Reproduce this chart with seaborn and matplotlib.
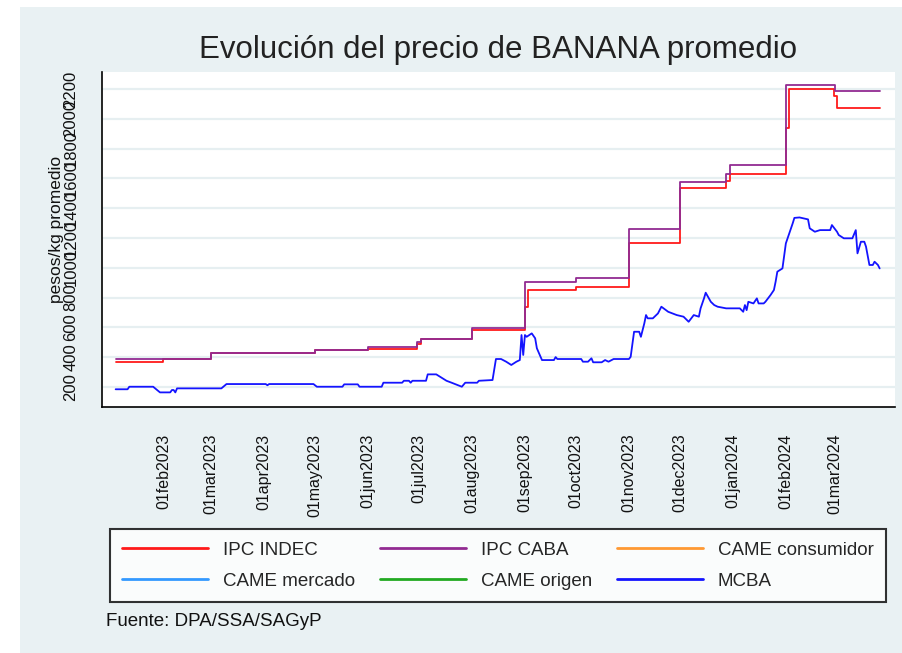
import pandas as pd
import matplotlib
matplotlib.use('Agg')
import matplotlib.pyplot as plt
import seaborn as sns

# IPC CABA (escalones)
caba_fechas = ['2023-01-04', '2023-03-01', '2023-05-01', '2023-06-01', '2023-06-30', '2023-07-02',
               '2023-08-01', '2023-09-01', '2023-10-01', '2023-11-01', '2023-12-01', '2023-12-28',
               '2023-12-30', '2024-02-01', '2024-03-01', '2024-03-27']
caba_precio = [390, 430, 446, 470, 500, 524, 594, 907, 929, 1258, 1574, 1630, 1688, 2226, 2186, 2186]

# IPC INDEC (escalones)
indec_fechas = ['2023-01-04', '2023-02-01', '2023-03-01', '2023-05-01', '2023-06-01', '2023-06-30',
                '2023-07-02', '2023-08-01', '2023-09-01', '2023-09-03', '2023-10-01', '2023-11-01',
                '2023-12-01', '2023-12-28', '2023-12-30', '2024-02-01', '2024-02-03', '2024-02-29',
                '2024-03-02', '2024-03-27']
indec_precio = [365, 390, 430, 446, 458, 490, 524, 582, 735, 851, 869, 1168, 1537, 1580, 1627,
                1938, 2198, 2150, 2070, 2070]

# MCBA
mcba_fechas = ['2023-01-04', '2023-01-11', '2023-01-12', '2023-01-26', '2023-01-30', '2023-02-05',
               '2023-02-06', '2023-02-07', '2023-02-08', '2023-02-09', '2023-03-07', '2023-03-10',
               '2023-04-02', '2023-04-03', '2023-04-04', '2023-04-30', '2023-05-02', '2023-05-17',
               '2023-05-18', '2023-05-26', '2023-05-27', '2023-06-09', '2023-06-10', '2023-06-21',
               '2023-06-22', '2023-06-25', '2023-06-26', '2023-06-27', '2023-07-05', '2023-07-06',
               '2023-07-11', '2023-07-17', '2023-07-20', '2023-07-26', '2023-07-28', '2023-08-04',
               '2023-08-05', '2023-08-13', '2023-08-15', '2023-08-18', '2023-08-21', '2023-08-24',
               '2023-08-27', '2023-08-29', '2023-08-30', '2023-08-31', '2023-09-01', '2023-09-02',
               '2023-09-05', '2023-09-07', '2023-09-08', '2023-09-11', '2023-09-18', '2023-09-19',
               '2023-09-20', '2023-10-04', '2023-10-05', '2023-10-08', '2023-10-10', '2023-10-11',
               '2023-10-16', '2023-10-18', '2023-10-20', '2023-10-23', '2023-11-01', '2023-11-02',
               '2023-11-04', '2023-11-07', '2023-11-08', '2023-11-10', '2023-11-11', '2023-11-12',
               '2023-11-15', '2023-11-18', '2023-11-20', '2023-11-24', '2023-11-29', '2023-12-03',
               '2023-12-06', '2023-12-09', '2023-12-12', '2023-12-13', '2023-12-15', '2023-12-16',
               '2023-12-19', '2023-12-21', '2023-12-23', '2023-12-28', '2024-01-05', '2024-01-07',
               '2024-01-08', '2024-01-09', '2024-01-10', '2024-01-13', '2024-01-15', '2024-01-16',
               '2024-01-19', '2024-01-20', '2024-01-23', '2024-01-25', '2024-01-26', '2024-01-27',
               '2024-01-30', '2024-01-31', '2024-02-01', '2024-02-03', '2024-02-05', '2024-02-06',
               '2024-02-09', '2024-02-14', '2024-02-15', '2024-02-18', '2024-02-21', '2024-02-27',
               '2024-02-28', '2024-03-02', '2024-03-03', '2024-03-06', '2024-03-11', '2024-03-13',
               '2024-03-14', '2024-03-16', '2024-03-18', '2024-03-19', '2024-03-21', '2024-03-23',
               '2024-03-24', '2024-03-26', '2024-03-27']
mcba_precio = [185, 185, 202, 202, 164, 164, 180, 180, 164, 191, 191, 220,
               220, 212, 220, 220, 202, 202, 218, 218, 202, 202, 229, 229,
               242, 242, 229, 242, 242, 285, 285, 242, 229, 202, 229, 229,
               242, 247, 388, 388, 370, 348, 370, 381, 549, 415, 549, 537,
               560, 527, 460, 381, 381, 401, 388, 388, 370, 370, 393, 366,
               366, 381, 370, 388, 388, 403, 571, 571, 537, 627, 683, 661,
               661, 694, 739, 705, 683, 672, 638, 683, 672, 728, 795, 833,
               772, 750, 739, 728, 728, 705, 750, 716, 772, 761, 795, 761,
               761, 772, 817, 851, 907, 974, 996, 1080, 1164, 1230, 1298, 1335,
               1338, 1325, 1265, 1242, 1253, 1253, 1287, 1242, 1220, 1198, 1198, 1253,
               1097, 1175, 1175, 1142, 1019, 1019, 1041, 1019, 996]

y_ticks = [200, 400, 600, 800, 1000, 1200, 1400, 1600, 1800, 2000, 2200]
y_tick_labels = ['200', '400', '600', '800', '1000', '1200', '1400', '1600', '1800', '2000', '2200']
x_tick_fechas = ['2023-02-01', '2023-03-01', '2023-04-01', '2023-05-01', '2023-06-01', '2023-07-01',
                 '2023-08-01', '2023-09-01', '2023-10-01', '2023-11-01', '2023-12-01', '2024-01-01',
                 '2024-02-01', '2024-03-01']
x_tick_labels = ['01feb2023', '01mar2023', '01apr2023', '01may2023', '01jun2023', '01jul2023',
                 '01aug2023', '01sep2023', '01oct2023', '01nov2023', '01dec2023', '01jan2024',
                 '01feb2024', '01mar2024']

series = ['IPC INDEC', 'IPC CABA', 'CAME consumidor', 'CAME mercado', 'CAME origen', 'MCBA']
colores = ['#ff1a1a', '#922b92', '#ff9933', '#3399ff', '#22aa22', '#1414ff']

sns.set_style('white')
plt.rcParams['font.family'] = ['Liberation Sans', 'DejaVu Sans']

fig = plt.figure(figsize=(9.02, 6.53), dpi=100)
fig.patch.set_facecolor('white')
fondo = plt.Rectangle((20 / 902, 0), 1 - 20 / 902, 1 - 7 / 653, transform=fig.transFigure,
                      facecolor='#e9f1f3', edgecolor='none', zorder=-10)
fig.patches.append(fondo)

ax = fig.add_axes([102 / 902, 1 - 407 / 653, (895 - 102) / 902, (407 - 72) / 653])
ax.set_facecolor('white')

lw = 1.3
sns.lineplot(x=pd.to_datetime(indec_fechas), y=indec_precio, drawstyle='steps-post', estimator=None,
             sort=False, color=colores[0], lw=lw, label=series[0], legend=False, ax=ax)
sns.lineplot(x=pd.to_datetime(caba_fechas), y=caba_precio, drawstyle='steps-post', estimator=None,
             sort=False, color=colores[1], lw=lw, label=series[1], legend=False, ax=ax)
# series sin datos (solo leyenda)
for nombre, c in zip(series[2:5], colores[2:5]):
    ax.plot([], [], color=c, lw=lw, label=nombre)
sns.lineplot(x=pd.to_datetime(mcba_fechas), y=mcba_precio, estimator=None, sort=False,
             color=colores[5], lw=lw, label=series[5], legend=False, ax=ax)

ax.set_xlim(pd.Timestamp('2022-12-27'), pd.Timestamp('2024-04-05'))
ax.set_ylim(66, 2314)

ax.set_yticks(y_ticks)
ax.set_yticklabels(y_tick_labels, rotation=90, va='center', fontsize=12)
ax.set_xticks(pd.to_datetime(x_tick_fechas))
ax.set_xticklabels(x_tick_labels, rotation=90, fontsize=11.5)
ax.tick_params(axis='both', which='major', length=8, width=1.2, color='black', labelcolor='#111111')
ax.tick_params(axis='x', pad=11)
ax.tick_params(axis='y', pad=9)
ax.set_xlabel('')
ax.set_ylabel('pesos/kg promedio', fontsize=12.5, color='#111111')
ax.yaxis.set_label_coords(-0.048, 0.53)

ax.yaxis.grid(True, color='#e6eff1', lw=1.6)
ax.xaxis.grid(False)
ax.set_axisbelow(True)
for s in ['top', 'right']:
    ax.spines[s].set_visible(False)
for s in ['left', 'bottom']:
    ax.spines[s].set_color('black')
    ax.spines[s].set_linewidth(1.2)

ax.set_title('Evolución del precio de BANANA promedio', fontsize=22.5, color='#222222', pad=10)

handles, labels = ax.get_legend_handles_labels()
orden = [labels.index(n) for n in ['IPC INDEC', 'CAME mercado', 'IPC CABA', 'CAME origen',
                                   'CAME consumidor', 'MCBA']]
leg = fig.legend([handles[i] for i in orden], [labels[i] for i in orden], ncol=3,
                 loc='lower left', bbox_to_anchor=(110 / 902, 1 - 602 / 653, 776 / 902, 71 / 653),
                 mode='expand', fontsize=13.5, handlelength=4.6, handletextpad=0.8,
                 columnspacing=1.4, frameon=True, fancybox=False, edgecolor='black',
                 borderaxespad=0, labelspacing=0.75, borderpad=0.65)
leg.get_frame().set_linewidth(1.5)
leg.get_frame().set_facecolor('white')
for linea in leg.get_lines():
    linea.set_linewidth(2)

fig.text(106 / 902, 1 - 621 / 653, 'Fuente: DPA/SSA/SAGyP', fontsize=13.5, va='center',
         color='#111111')

fig.savefig('out.png', dpi=100, facecolor=fig.get_facecolor())
